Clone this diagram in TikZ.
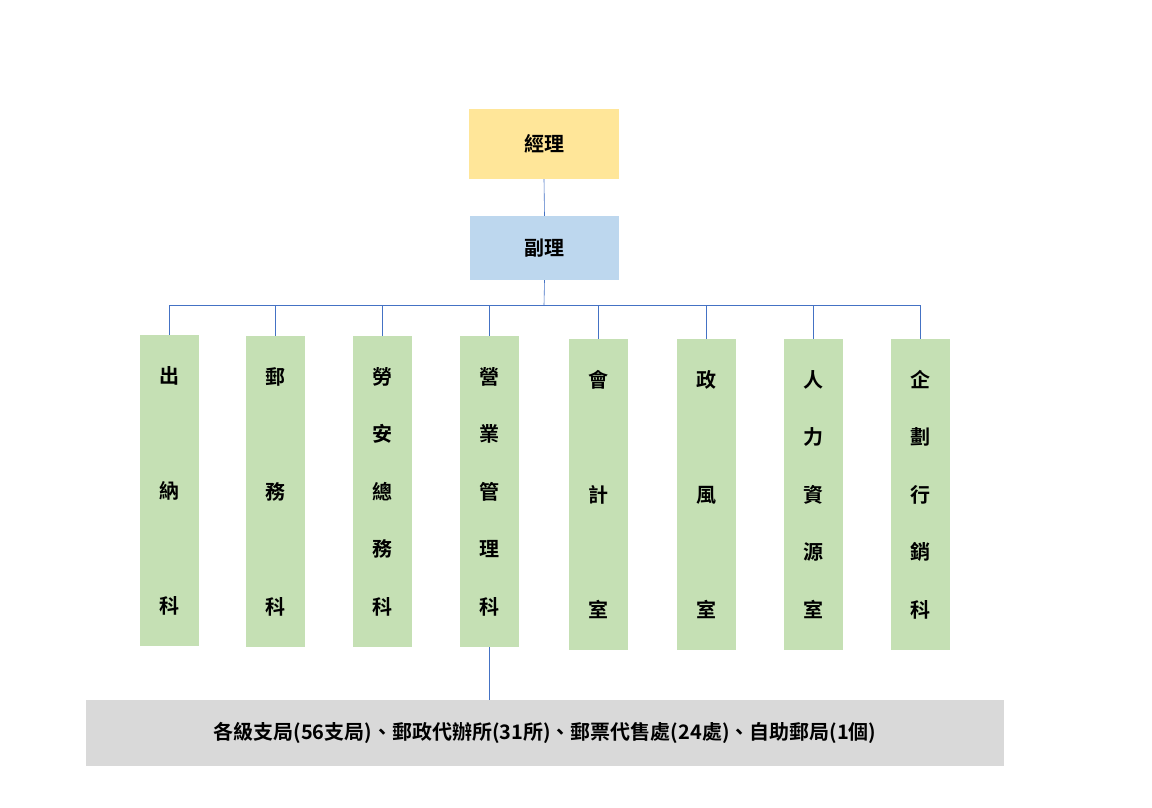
\documentclass[tikz,border=0pt]{standalone}
\usepackage{fontspec}
\setmainfont{Noto Sans CJK TC}[BoldFont={* Bold}]
\begin{document}
\begin{tikzpicture}[x=1pt,y=-1pt,
  box/.style={draw=none,inner sep=0pt,font=\fontsize{20}{24}\selectfont\bfseries},
  col/.style={box,fill=green3,minimum width=59pt,minimum height=311pt,align=center},
  three/.style={font=\fontsize{20}{115}\selectfont\bfseries},
  five/.style={font=\fontsize{20}{57.5}\selectfont\bfseries},
  conn/.style={draw=blue4,line width=0.6pt}]
\definecolor{yel}{HTML}{FFE699}
\definecolor{blu}{HTML}{BDD7EE}
\definecolor{green3}{HTML}{C5E0B4}
\definecolor{gry}{HTML}{D9D9D9}
\definecolor{blue4}{HTML}{4472C4}
\useasboundingbox (0,0) rectangle (1152,808);
\node[box,fill=yel,minimum width=150pt,minimum height=70pt] (mgr) at (544,144) {經理};
\node[box,fill=blu,minimum width=149pt,minimum height=64pt] (vice) at (544.5,248) {副理};
\node[col,three] (c1) at (169,490.5) {出\\納\\科};
\node[col,three] (c2) at (275.5,491.5) {郵\\務\\科};
\node[col,five] (c3) at (382.5,491.5) {勞\\安\\總\\務\\科};
\node[col,five] (c4) at (489.5,491.5) {營\\業\\管\\理\\科};
\node[col,three] (c5) at (598.5,494.5) {會\\計\\室};
\node[col,three] (c6) at (706.5,494.5) {政\\風\\室};
\node[col,five] (c7) at (813.5,494.5) {人\\力\\資\\源\\室};
\node[col,five] (c8) at (920,494.5) {企\\劃\\行\\銷\\科};
\node[box,fill=gry,minimum width=918pt,minimum height=66pt,font=\fontsize{20}{24}\selectfont\bfseries] (br) at (545,733) {各級支局(56支局)、郵政代辦所(31所)、郵票代售處(24處)、自助郵局(1個)};
\coordinate (bus) at (544,305);
\draw[conn] (mgr.south) -- (vice.north);
\draw[conn] (vice.south) -- (bus);
\draw[conn] (c1.north |- bus) -- (c8.north |- bus);
\foreach \c in {c1,c2,c3,c4,c5,c6,c7,c8} \draw[conn] (\c.north |- bus) -- (\c.north);
\draw[conn] (c4.south) -- (c4.south |- br.north);
\end{tikzpicture}
\end{document}
